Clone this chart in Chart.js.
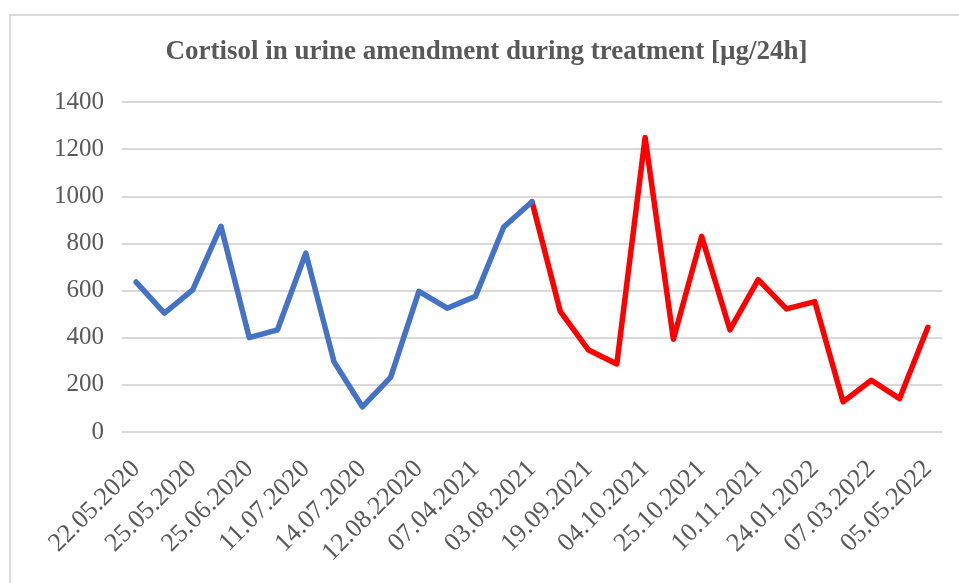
<!DOCTYPE html>
<html>
<head>
<meta charset="utf-8">
<script src="https://cdn.jsdelivr.net/npm/chart.js@4"></script>
<style>
  body { margin: 0; background: #fff; }
  #box {
    position: absolute; left: 9px; top: 14px;
    width: 950px; height: 569px;
    border-left: 2px solid #d9d9d9; border-top: 2px solid #d9d9d9;
    box-sizing: border-box;
  }
</style>
</head>
<body>
<div id="box"><canvas id="myChart" width="948" height="567"></canvas></div>
<script>
// dates, only every second one is printed on the axis
var dates = ['22.05.2020', '', '25.05.2020', '', '25.06.2020', '', '11.07.2020', '',
  '14.07.2020', '', '12.08.22020', '', '07.04.2021', '', '03.08.2021', '',
  '19.09.2021', '', '04.10.2021', '', '25.10.2021', '', '10.11.2021', '',
  '24.01.2022', '', '07.03.2022', '', '05.05.2022'];

// before treatment (blue)
var before = [637, 505, 604, 874, 401, 434, 760, 298, 107, 232, 597, 526, 576, 871, 978,
  null, null, null, null, null, null, null, null, null, null, null, null, null, null];

// during treatment (red)
var during = [null, null, null, null, null, null, null, null, null, null, null, null, null, null,
  978, 512, 348, 289, 1251, 394, 831, 434, 647, 523, 554, 128, 220, 142, 445];

var yTicks = [0, 200, 400, 600, 800, 1000, 1200, 1400];

var serif = 'Liberation Serif';
var grey = '#595959';

var ctx = document.getElementById('myChart').getContext('2d');
var chart = new Chart(ctx, {
  type: 'line',
  data: {
    labels: dates,
    datasets: [{
      data: before,
      borderColor: '#4472c4',
      borderWidth: 5.5,
      pointRadius: 0,
      borderJoinStyle: 'round',
      borderCapStyle: 'round',
      tension: 0
    }, {
      data: during,
      borderColor: '#ff0000',
      borderWidth: 5.5,
      pointRadius: 0,
      borderJoinStyle: 'round',
      borderCapStyle: 'round',
      tension: 0
    }]
  },
  options: {
    responsive: false,
    animation: false,
    devicePixelRatio: 1,
    layout: { padding: { left: 20, right: 17, top: 0, bottom: 0 } },
    plugins: {
      legend: { display: false },
      tooltip: { enabled: false },
      title: {
        display: true,
        text: 'Cortisol in urine amendment during treatment [µg/24h]',
        color: grey,
        font: { family: serif, size: 27, weight: 'bold' },
        padding: { top: 20, bottom: 34 }
      }
    },
    scales: {
      x: {
        offset: true,
        // invisible tick marks, only used to push the labels down
        grid: { drawOnChartArea: false, color: 'rgba(0,0,0,0)', tickLength: 14 },
        border: { display: false },
        ticks: {
          autoSkip: false,
          maxRotation: 45,
          minRotation: 45,
          padding: 8,
          color: grey,
          font: { family: serif, size: 26 }
        },
        afterFit: function (scale) { scale.height = 151; }
      },
      y: {
        min: 0,
        max: 1400,
        afterBuildTicks: function (scale) {
          scale.ticks = yTicks.map(function (v) { return { value: v }; });
        },
        grid: { color: '#d9d9d9', lineWidth: 2, drawTicks: false },
        border: { display: false },
        ticks: {
          padding: 18,
          color: grey,
          font: { family: serif, size: 25 },
          callback: function (v) { return String(v); }
        },
        afterFit: function (scale) { scale.width = 91; }
      }
    }
  }
});
</script>
</body>
</html>
